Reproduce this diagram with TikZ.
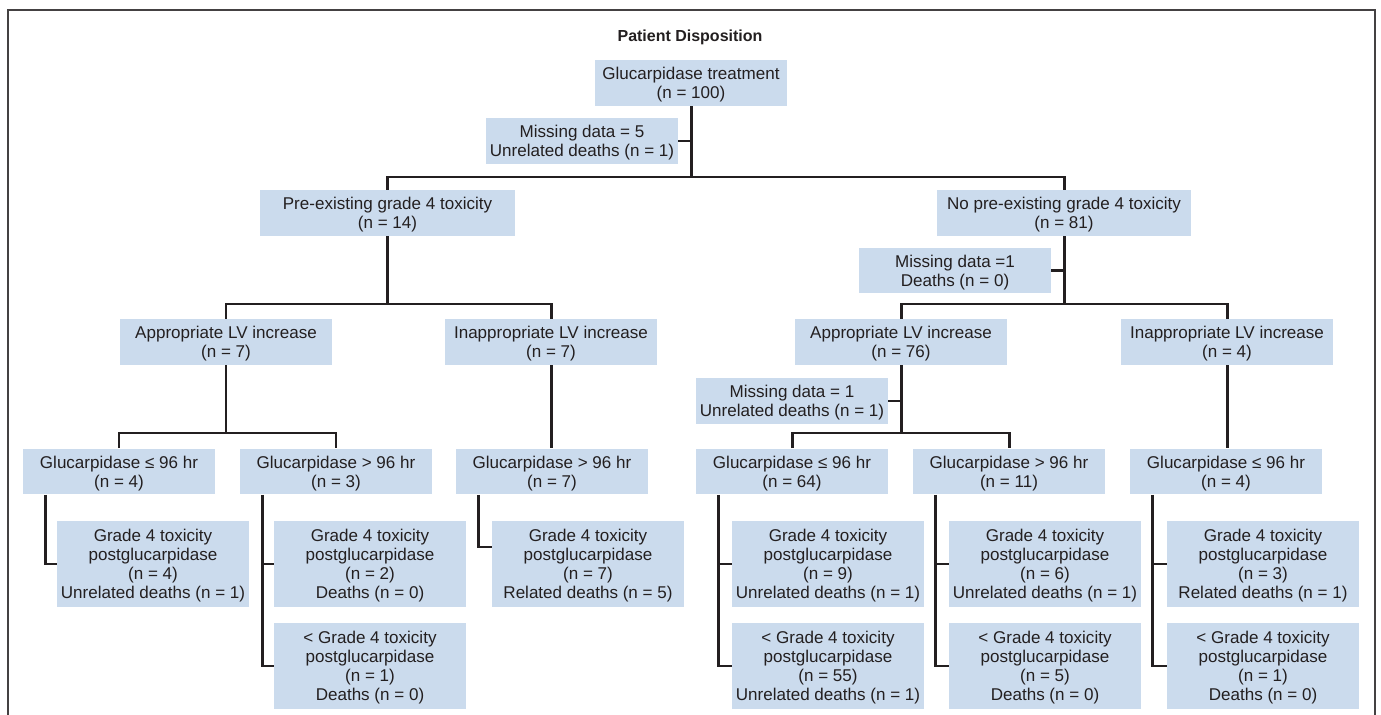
\documentclass[tikz,border=0pt]{standalone}
\usepackage{fontspec}
\setmainfont{Liberation Sans}

\definecolor{boxblue}{RGB}{203,219,237}
\definecolor{ink}{RGB}{35,31,32}

\begin{document}
\begin{tikzpicture}[x=0.02cm,y=-0.02cm,
        box/.style={fill=boxblue, text=ink, align=center, inner sep=0pt,
            minimum width=3.84cm, minimum height=0.92cm, text depth=-3.4pt,
            font=\fontsize{9.7}{10.8}\selectfont},
        wide/.style={box, minimum width=4.24cm},
        leaf/.style={box, minimum height=1.72cm, text depth=-2.4pt},
        link/.style={draw=ink, line width=1.7pt}]

        \def\drop{.46cm}                            % offset of the leaf drop lines

        \useasboundingbox (0,0) rectangle (1381,715);

        % frame
        \draw[ink!85, line width=0.8pt] (8,715) -- (8,10) -- (1375,10) -- (1375,715);

        \node[text=ink, font=\fontsize{9.1}{10}\selectfont\bfseries] (title) at (690,37.5) {Patient Disposition};

        % top levels
        \node[box] (root) at (691,83) {Glucarpidase treatment\\(n = 100)};
        \node[box] (miss1) at (582,141) {Missing data = 5\\Unrelated deaths (n = 1)};
        \node[box, minimum width=5.1cm] (pre) at (387.5,213) {Pre-existing grade 4 toxicity\\(n = 14)};
        \node[box, minimum width=5.1cm] (nopre) at (1064,213) {No pre-existing grade 4 toxicity\\(n = 81)};
        \node[box] (miss2) at (955,270.5) {Missing data =1\\Deaths (n = 0)};

        % LV increase
        \node[wide] (appA) at (226,342) {Appropriate LV increase\\(n = 7)};
        \node[wide] (inappA) at (551,342) {Inappropriate LV increase\\(n = 7)};
        \node[wide] (appB) at (901,342) {Appropriate LV increase\\(n = 76)};
        \node[wide] (inappB) at (1227,342) {Inappropriate LV increase\\(n = 4)};
        \node[box] (miss3) at (792,401) {Missing data = 1\\Unrelated deaths (n = 1)};

        % timing of glucarpidase
        \node[box] (g1) at (119,471.5) {Glucarpidase ≤ 96 hr\\(n = 4)};
        \node[box] (g2) at (336,471.5) {Glucarpidase > 96 hr\\(n = 3)};
        \node[box] (g3) at (552,471.5) {Glucarpidase > 96 hr\\(n = 7)};
        \node[box] (g4) at (792,471.5) {Glucarpidase ≤ 96 hr\\(n = 64)};
        \node[box] (g5) at (1009,471.5) {Glucarpidase > 96 hr\\(n = 11)};
        \node[box] (g6) at (1226,471.5) {Glucarpidase ≤ 96 hr\\(n = 4)};

        % outcomes
        \node[leaf] (l1) at (153,564) {Grade 4 toxicity\\postglucarpidase\\(n = 4)\\Unrelated deaths (n = 1)};
        \node[leaf] (l2) at (370,564) {Grade 4 toxicity\\postglucarpidase\\(n = 2)\\Deaths (n = 0)};
        \node[leaf] (l3) at (370,666) {< Grade 4 toxicity\\postglucarpidase\\(n = 1)\\Deaths (n = 0)};
        \node[leaf] (l4) at (588,564) {Grade 4 toxicity\\postglucarpidase\\(n = 7)\\Related deaths (n = 5)};
        \node[leaf] (l5) at (828,564) {Grade 4 toxicity\\postglucarpidase\\(n = 9)\\Unrelated deaths (n = 1)};
        \node[leaf] (l6) at (828,666) {< Grade 4 toxicity\\postglucarpidase\\(n = 55)\\Unrelated deaths (n = 1)};
        \node[leaf] (l7) at (1045,564) {Grade 4 toxicity\\postglucarpidase\\(n = 6)\\Unrelated deaths (n = 1)};
        \node[leaf] (l8) at (1045,666) {< Grade 4 toxicity\\postglucarpidase\\(n = 5)\\Deaths (n = 0)};
        \node[leaf] (l9) at (1263,564) {Grade 4 toxicity\\postglucarpidase\\(n = 3)\\Related deaths (n = 1)};
        \node[leaf] (l10) at (1263,666) {< Grade 4 toxicity\\postglucarpidase\\(n = 1)\\Deaths (n = 0)};

        % junctions
        \coordinate (j1) at (691,177);
        \coordinate (j2) at (387.5,304);
        \coordinate (j3) at (1064,304);
        \coordinate (j4) at (226,433);
        \coordinate (j5) at (901,433);

        \draw[link] (root.south) -- (j1);
        \draw[link] (miss1.east) -- (miss1.east -| j1);
        \draw[link] (pre.north) |- (j1) -| (nopre.north);

        \draw[link] (pre.south) -- (j2);
        \draw[link] (appA.north) |- (j2) -| (inappA.north);
        \draw[link] (nopre.south) -- (j3);
        \draw[link] (miss2.east) -- (miss2.east -| j3);
        \draw[link] (appB.north) |- (j3) -| (inappB.north);

        \draw[link] (appA.south) -- (j4);
        \draw[link] (g1.north) |- (j4) -| (g2.north);
        \draw[link] (inappA.south) -- (inappA.south |- g3.north);
        \draw[link] (appB.south) -- (j5);
        \draw[link] (miss3.east) -- (miss3.east -| j5);
        \draw[link] (g4.north) |- (j5) -| (g5.north);
        \draw[link] (inappB.south) -- (inappB.south |- g6.north);

        % drop lines to the outcomes
        \coordinate (d1) at ([xshift=\drop]g1.south west);
        \coordinate (d2) at ([xshift=\drop]g2.south west);
        \coordinate (d3) at ([xshift=\drop]g3.south west);
        \coordinate (d4) at ([xshift=\drop]g4.south west);
        \coordinate (d5) at ([xshift=\drop]g5.south west);
        \coordinate (d6) at ([xshift=\drop]g6.south west);

        \draw[link] (d1) |- (l1.west);
        \draw[link] (d2) |- (l3.west);
        \draw[link] (l2.west) -- (l2.west -| d2);
        \draw[link] (d3) |- ([yshift=.34cm]l4.west);
        \draw[link] (d4) |- (l6.west);
        \draw[link] (l5.west) -- (l5.west -| d4);
        \draw[link] (d5) |- (l8.west);
        \draw[link] (l7.west) -- (l7.west -| d5);
        \draw[link] (d6) |- (l10.west);
        \draw[link] (l9.west) -- (l9.west -| d6);

\end{tikzpicture}
\end{document}
